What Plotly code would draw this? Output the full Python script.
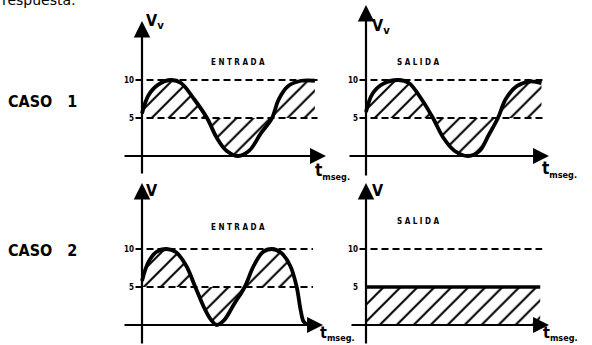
import plotly.graph_objects as go

W, H = 592, 345
PX_T, PX_V = 6.5, 7.6          # pixels per ms and per volt in every panel

# ---- data -------------------------------------------------------------
levels = [5, 10]
level_labels = ["5", "10"]

# Caso 1, entrada (t in ms, V in volts)
t_ent1 = [0, 1.0, 2.5, 4.5, 6.0, 8.0, 10.0, 11.5, 13.0, 14.8, 16.5, 18.3, 20.0, 21.0, 22.5, 24.5, 26.6]
v_ent1 = [5.6, 8.0, 9.4, 10.0, 9.6, 7.5, 5.0, 2.4, 0.7, 0.0, 0.7, 3.0, 5.0, 7.4, 9.2, 9.9, 9.9]

# Caso 1, salida
t_sal1 = [0, 1.0, 2.6, 5.0, 6.6, 8.6, 10.3, 11.9, 13.6, 15.7, 17.4, 18.9, 20.3, 21.5, 23.2, 25.2, 27.0]
v_sal1 = [5.8, 8.2, 9.5, 10.0, 9.6, 7.4, 5.0, 2.4, 0.7, 0.0, 0.6, 2.8, 5.0, 7.5, 9.2, 9.8, 9.6]

# Caso 2, entrada
t_ent2 = [0, 1.0, 2.2, 3.8, 5.2, 6.8, 8.2, 9.6, 10.6, 11.5, 12.6, 14.2, 15.8, 17.2, 18.6, 20.0, 21.4, 22.8, 23.8, 24.4, 24.9, 25.6, 26.8]
v_ent2 = [5.8, 8.3, 9.6, 10.0, 9.6, 7.8, 5.0, 2.2, 0.7, 0.0, 0.6, 2.8, 5.0, 7.8, 9.6, 10.0, 9.5, 7.8, 5.0, 2.0, 0.4, 0.0, 0.0]
n_fill_ent2 = 19                # points of the entrada 2 curve that bound the hatched area

# Caso 2, salida: constant 5 V
t_sal2 = [0, 26.8]
v_sal2 = [5, 5]

# ---- panel geometry (origin pixel, pixel box) -------------------------
panels = [
    dict(ox=142, oy=156, box=(100, 340, 0, 178), tip=21, bot=175, left=123, right=326, dash_end=27.0),
    dict(ox=366, oy=156, box=(340, 592, 0, 178), tip=5, bot=177, left=348, right=549, dash_end=27.2),
    dict(ox=142, oy=325, box=(100, 340, 178, 345), tip=183, bot=345, left=123, right=323, dash_end=26.3),
    dict(ox=366, oy=325, box=(340, 592, 178, 345), tip=183, bot=345, left=350, right=549, dash_end=27.1),
]


def tx(p, px):
    return (px - p["ox"]) / PX_T


def vy(p, py):
    return (p["oy"] - py) / PX_V


fig = go.Figure()
layout = dict(
    width=W, height=H, margin=dict(l=0, r=0, t=0, b=0),
    paper_bgcolor="white", plot_bgcolor="rgba(0,0,0,0)", showlegend=False,
)
annotations = []

INK = "black"
COND = "DejaVu Sans Condensed, DejaVu Sans"
hatch = dict(shape="/", size=12, solidity=0.17, fgcolor=INK, bgcolor="rgba(0,0,0,0)", fillmode="replace")
dash_style = dict(color=INK, width=2, dash="7px,4px")

for i, p in enumerate(panels):
    n = "" if i == 0 else str(i + 1)
    xa, ya = "x" + n, "y" + n
    x0, x1, y0, y1 = p["box"]
    layout["xaxis" + n] = dict(domain=[x0 / W, x1 / W], range=[tx(p, x0), tx(p, x1)],
                               visible=False, anchor=ya, fixedrange=True)
    layout["yaxis" + n] = dict(domain=[1 - y1 / H, 1 - y0 / H], range=[vy(p, y1), vy(p, y0)],
                               visible=False, anchor=xa, fixedrange=True)

    # dashed reference levels
    for lv in levels:
        if i == 3 and lv == 5:
            continue
        fig.add_trace(go.Scatter(x=[-1.0, p["dash_end"]], y=[lv, lv], mode="lines",
                                 line=dash_style, xaxis=xa, yaxis=ya, hoverinfo="skip"))

    # axes with arrows
    annotations.append(dict(x=tx(p, p["right"]), y=0, ax=tx(p, p["left"]), ay=0,
                            xref=xa, yref=ya, axref=xa, ayref=ya, text="", showarrow=True,
                            arrowhead=2, arrowsize=1.45, arrowwidth=2.2, arrowcolor=INK, standoff=0))
    annotations.append(dict(x=0, y=vy(p, p["tip"]), ax=0, ay=vy(p, p["bot"]),
                            xref=xa, yref=ya, axref=xa, ayref=ya, text="", showarrow=True,
                            arrowhead=2, arrowsize=1.5, arrowwidth=2.2, arrowcolor=INK, standoff=0))

    # level labels
    for lv, lab in zip(levels, level_labels):
        annotations.append(dict(x=-0.9, y=lv, xref=xa, yref=ya, text="<b>%s</b>" % lab,
                                showarrow=False, xanchor="right", yanchor="middle",
                                font=dict(size=8, color=INK, family=COND)))

# hatched areas and waveforms
curves = [(t_ent1, v_ent1, len(t_ent1)), (t_sal1, v_sal1, len(t_sal1)), (t_ent2, v_ent2, n_fill_ent2)]
for i, (t, v, nf) in enumerate(curves):
    n = "" if i == 0 else str(i + 1)
    xa, ya = "x" + n, "y" + n
    fig.add_trace(go.Scatter(x=[t[0], t[nf - 1]], y=[5, 5], mode="lines", line=dict(width=0),
                             xaxis=xa, yaxis=ya, hoverinfo="skip"))
    fig.add_trace(go.Scatter(x=t[:nf], y=v[:nf], mode="lines", line=dict(width=0, shape="spline", smoothing=1.0),
                             fill="tonexty", fillcolor="rgba(0,0,0,0)", fillpattern=hatch,
                             xaxis=xa, yaxis=ya, hoverinfo="skip"))
    fig.add_trace(go.Scatter(x=t, y=v, mode="lines",
                             line=dict(color=INK, width=3.8, shape="spline", smoothing=1.0),
                             xaxis=xa, yaxis=ya, hoverinfo="skip"))

# caso 2 salida: hatched band under the constant output
fig.add_trace(go.Scatter(x=t_sal2, y=v_sal2, mode="lines", line=dict(color=INK, width=3.6),
                         fill="tozeroy", fillcolor="rgba(0,0,0,0)", fillpattern=hatch,
                         xaxis="x4", yaxis="y4", hoverinfo="skip"))


def ptext(x, y, text, size, family=COND, **kw):
    annotations.append(dict(x=x / W, y=1 - y / H, xref="paper", yref="paper", text=text,
                            showarrow=False, font=dict(size=size, color=INK, family=family), **kw))


# panel titles
ptext(238, 56, "<b>E N T R A D A</b>", 8)
ptext(442, 56, "<b>S A L I D A</b>", 8)
ptext(238, 234, "<b>E N T R A D A</b>", 8)
ptext(442, 222, "<b>S A L I D A</b>", 8)

# vertical axis names
VV = "<b>V</b><sub><b>v</b></sub>"
ptext(144, 9, VV, 16, xanchor="left", yanchor="top")
ptext(370, 14, VV, 16, xanchor="left", yanchor="top")
ptext(144, 190, "<b>V</b>", 16, xanchor="left")
ptext(370, 190, "<b>V</b>", 16, xanchor="left")

# time axis names
TM = "<b>t</b><sub><span style='font-size:9px'><b>mseg.</b></span></sub>"
ptext(313, 171, TM, 17, xanchor="left")
ptext(540, 169, TM, 17, xanchor="left")
ptext(318, 345, TM, 16, xanchor="left", yanchor="bottom")
ptext(541, 345, TM, 16, xanchor="left", yanchor="bottom")

# case labels
ptext(6, 90, "<b>CASO   1</b>", 16, xanchor="left")
ptext(6, 262, "<b>CASO   2</b>", 16, xanchor="left")

# heading cut by the top edge
ptext(0, 0, "respuesta:", 14, family="DejaVu Sans", xanchor="left", yanchor="middle")

layout["annotations"] = annotations
fig.update_layout(**layout)
fig.write_html("out.html")
